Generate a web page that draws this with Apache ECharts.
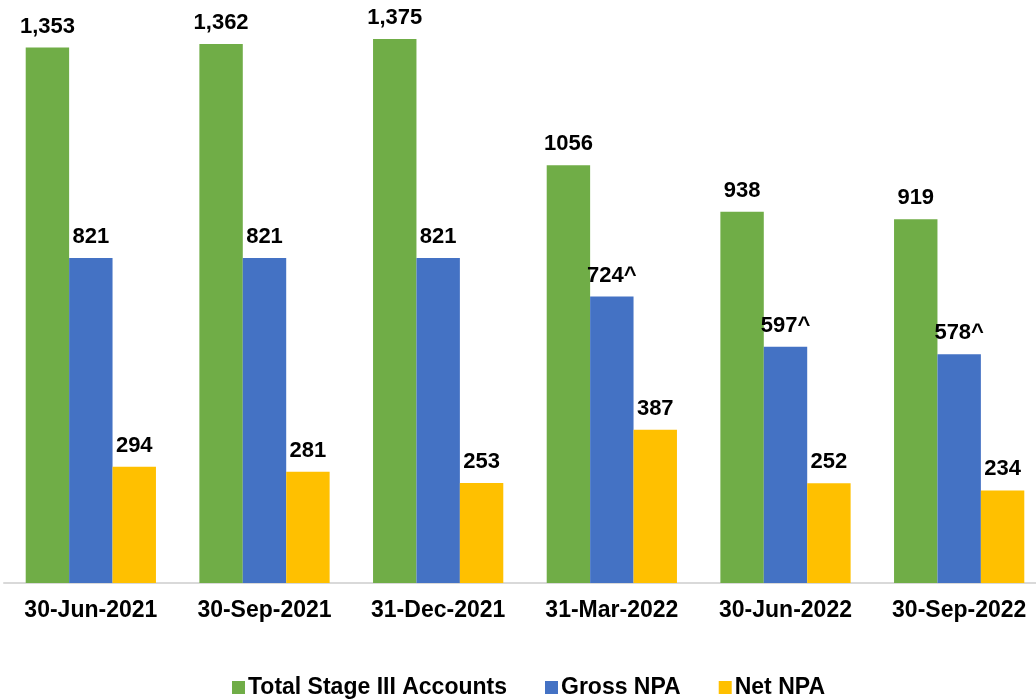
<!DOCTYPE html>
<html>
<head>
<meta charset="utf-8">
<script src="https://cdn.jsdelivr.net/npm/echarts@6/dist/echarts.min.js"></script>
<style>
  html, body { margin: 0; padding: 0; background: #fff; }
  #chart { width: 1036px; height: 700px; }
</style>
</head>
<body>
<div id="chart"></div>
<script>
// quarter ends
var dates = ["30-Jun-2021", "30-Sep-2021", "31-Dec-2021", "31-Mar-2022", "30-Jun-2022", "30-Sep-2022"];

// values (as drawn)
var stage3 = [1353, 1362, 1375, 1056, 938, 919];
var grossNpa = [821, 821, 821, 724, 597, 578];
var netNpa = [294, 281, 253, 387, 252, 234];

// label text as printed on the chart
var stage3Labels = ["1,353", "1,362", "1,375", "1056", "938", "919"];
var grossLabels = ["821", "821", "821", "724^", "597^", "578^"];
var netLabels = ["294", "281", "253", "387", "252", "234"];

var font = "'Liberation Sans', Arial, sans-serif";

var myChart = echarts.init(document.getElementById("chart"));

function lbl(arr) {
  return {
    show: true,
    position: "top",
    distance: 10,
    color: "#000",
    fontSize: 22,
    fontWeight: "bold",
    fontFamily: font,
    formatter: function (p) {
      return arr[p.dataIndex];
    }
  };
}

myChart.setOption({
  animation: false,
  grid: {
    top: 29,
    left: 4,
    width: 1042,
    bottom: 117,
    containLabel: false,
    outerBoundsMode: "none"
  },
  legend: {
    left: 232,
    top: 676,
    padding: 0,
    itemWidth: 13,
    itemHeight: 13,
    itemGap: 38,
    icon: "rect",
    textStyle: {
      color: "#000",
      fontSize: 23,
      fontWeight: "bold",
      fontFamily: font,
      padding: [0, 0, 0, -2]
    },
    data: ["Total Stage III Accounts", "Gross NPA", "Net NPA"]
  },
  xAxis: {
    type: "category",
    data: dates,
    axisLine: {
      show: true,
      lineStyle: { color: "#d9d9d9", width: 2 }
    },
    axisTick: { show: false },
    axisLabel: {
      interval: 0,
      margin: 16,
      color: "#000",
      fontSize: 23,
      fontWeight: "bold",
      fontFamily: font
    }
  },
  yAxis: {
    type: "value",
    min: 0,
    max: 1400,
    show: false,
    splitLine: { show: false }
  },
  series: [
    {
      name: "Total Stage III Accounts",
      type: "bar",
      data: stage3,
      barGap: "0%",
      barCategoryGap: "25%",
      itemStyle: { color: "#70ad47" },
      label: lbl(stage3Labels)
    },
    {
      name: "Gross NPA",
      type: "bar",
      data: grossNpa,
      barGap: "0%",
      barCategoryGap: "25%",
      itemStyle: { color: "#4472c4" },
      label: lbl(grossLabels)
    },
    {
      name: "Net NPA",
      type: "bar",
      data: netNpa,
      barGap: "0%",
      barCategoryGap: "25%",
      itemStyle: { color: "#ffc000" },
      label: lbl(netLabels)
    }
  ]
});
</script>
</body>
</html>
